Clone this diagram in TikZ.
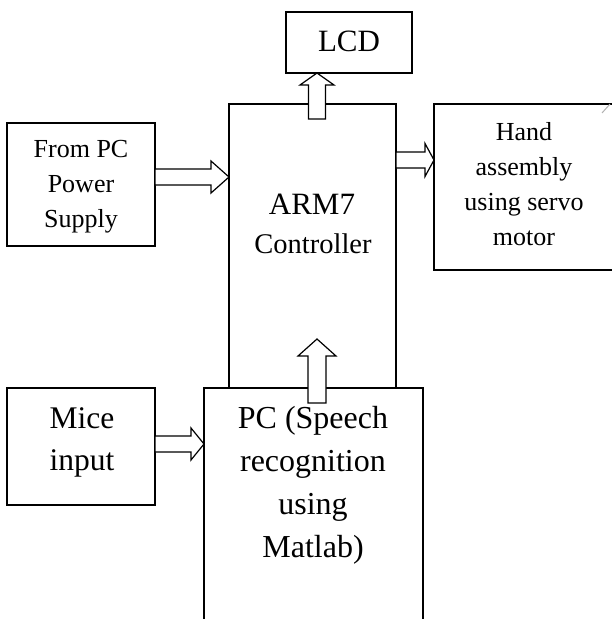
\documentclass[tikz,border=0pt]{standalone}
\usepackage{fontspec}
\setmainfont{Liberation Serif}
\usetikzlibrary{calc}
% block arrow: #1 start, #2 tip, #3 shaft half width, #4 head half width, #5 head length
\newcommand\blockarr[5]{%
 \path[blockarrow] let \p1=(#1), \p2=(#2),
   \n1={atan2(\y2-\y1,\x2-\x1)}, \n2={veclen(\x2-\x1,\y2-\y1)} in
   ([shift={(\p1)},rotate=\n1]0,#3) -- ([shift={(\p1)},rotate=\n1]{\n2-#5},#3)
   -- ([shift={(\p1)},rotate=\n1]{\n2-#5},#4) -- ([shift={(\p1)},rotate=\n1]{\n2},0)
   -- ([shift={(\p1)},rotate=\n1]{\n2-#5},-#4) -- ([shift={(\p1)},rotate=\n1]{\n2-#5},-#3)
   -- ([shift={(\p1)},rotate=\n1]0,-#3) -- cycle;}
\begin{document}
\begin{tikzpicture}[x=1pt,y=1pt,
  box/.style={draw, line width=1.2pt, fill=white, inner sep=0pt, outer sep=0pt, anchor=north west},
  blockarrow/.style={draw, fill=white, line width=1.2pt, line join=miter},
  lbl/.style={inner sep=0pt, align=center, anchor=north}]
\useasboundingbox (0,0) rectangle (611,-619);
% boxes
\node[box, minimum width=126pt, minimum height=61pt] (lcd) at (286,-12) {};
\node[box, minimum width=167pt, minimum height=284pt] (arm) at (229,-104) {};
\node[box, minimum width=148pt, minimum height=123pt] (from) at (7,-123) {};
\node[box, minimum width=180pt, minimum height=166pt] (hand) at (434,-104) {};
\node[box, minimum width=148pt, minimum height=117pt] (mice) at (7,-388) {};
\node[box, minimum width=219pt, minimum height=250pt] (pc) at (204,-388) {};
% faint stray mark at the top right
\draw[black!30, line width=1pt] (602,-113) -- (610,-104);
% texts
\node[lbl, font=\fontsize{31pt}{37pt}\selectfont, anchor=base] (lcdt) at (349,-51) {LCD};
\node[lbl, font=\fontsize{31pt}{37pt}\selectfont, anchor=base] (armta) at (312,-214) {ARM7};
\node[lbl, font=\fontsize{28.5pt}{34pt}\selectfont, anchor=base] (armtb) at (313,-253) {Controller};
\node[lbl, font=\fontsize{26pt}{35pt}\selectfont] (fromt) at (81,-140.4) {From PC\\Power\\Supply};
\node[lbl, font=\fontsize{26pt}{35pt}\selectfont] (handt) at (524,-122.2) {Hand\\assembly\\using servo\\motor};
\node[lbl, font=\fontsize{31.5pt}{42pt}\selectfont] (micet) at (82,-407.5) {Mice\\input};
\node[lbl, font=\fontsize{32pt}{43pt}\selectfont] (pct) at (313,-405.8) {PC (Speech\\recognition\\using\\Matlab)};
% arrow end points inside boxes
\coordinate (lcdin) at ($(arm.north -| 317,0)+(0,-15)$);
\coordinate (pcin) at ($(pc.north -| 317,0)+(0,-15)$);
\coordinate (armin) at (317,-339);
% arrows
\blockarr{from.east |- 0,-177}{arm.west |- 0,-177}{8}{16}{18}
\blockarr{arm.east |- 0,-160}{hand.west |- 0,-160}{8}{16.5}{9}
\blockarr{lcdin}{lcd.south -| 317,0}{8.5}{17}{12}
\blockarr{pcin}{armin}{9}{19}{17}
\blockarr{mice.east |- 0,-444}{pc.west |- 0,-444}{8}{16}{13}
\end{tikzpicture}
\end{document}
